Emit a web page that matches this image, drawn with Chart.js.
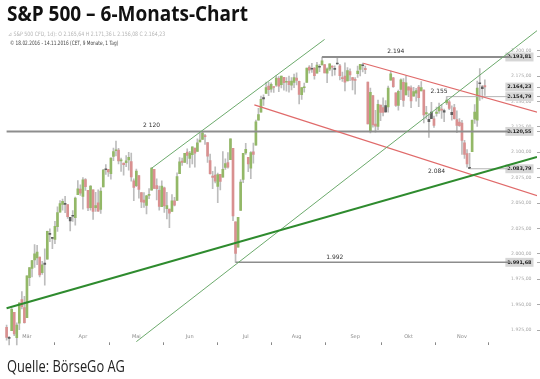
<!DOCTYPE html>
<html>
<head>
<meta charset="utf-8">
<script src="https://cdn.jsdelivr.net/npm/chart.js@4.4.1/dist/chart.umd.min.js"></script>
<style>
  html, body { margin: 0; padding: 0; background: #fff; }
  #wrap { position: relative; width: 540px; height: 379px; overflow: hidden; }
  #c { position: absolute; left: 0; top: 0; }
  .txt { position: absolute; white-space: nowrap; transform-origin: 0 0; }
  #title { left: 7px; top: -3.5px; font: 700 22px 'Open Sans'; line-height: 30px; color: #111; }
  #info1 { left: 8px; top: 30px; font: 6px 'DejaVu Sans'; line-height: 8px; color: #b5b5b5; }
  #info2 { left: 10px; top: 39px; font: 6px 'DejaVu Sans'; line-height: 8px; color: #444; }
  #src { left: 7px; top: 354.6px; font: 16px 'Open Sans'; line-height: 22px; color: #222; }
</style>
</head>
<body>
<div id="wrap">
  <canvas id="c" width="540" height="379"></canvas>
  <div class="txt" id="title">S&amp;P 500 – 6-Monats-Chart</div>
  <div class="txt" id="info1">⊿ S&amp;P 500 CFD, 1d): O 2.165,64 H 2.171,36 L 2.156,08 C 2.164,23</div>
  <div class="txt" id="info2">© 18.02.2016 - 14.11.2016 (CET, 9 Monate, 1 Tag)</div>
  <div class="txt" id="src">Quelle: BörseGo AG</div>
</div>
<script>
// daily OHLC, 18.02.2016 - 14.11.2016 (index 0 = 18.02.)
const opens = [
  1927.57,1916.74,1924.44,1942.38,1917.56,1931.87,1954.95,1947.13,
  1937.09,1976.60,1985.60,1994.01,1996.11,1996.88,1981.44,1990.97,1994.71,2019.27,2015.27,2014.24,2026.90,2041.16,2048.64,2048.64,2048.55,2032.48,2037.89,2035.75,2058.27,2063.77,
  2056.62,2073.19,2062.50,2045.56,2063.01,2045.54,2050.23,2043.72,2065.92,2082.89,2083.10,2078.83,2096.05,2101.52,2102.09,2091.49,2089.37,2089.84,2092.57,2090.93,2071.82,
  2067.17,2077.18,2060.30,2052.95,2047.77,2057.55,2062.63,2083.29,2067.17,2062.50,2046.53,2065.04,2044.38,2044.21,2041.88,2052.23,2052.65,2078.93,2091.44,2090.06,2100.13,
  2093.94,2097.71,2104.07,2100.83,2110.18,2112.71,2115.65,2109.57,2091.75,2076.65,2077.60,2066.36,2078.20,2075.58,2085.19,2089.75,2092.80,2103.81,2031.45,2006.67,2042.69,2073.17,
  2099.34,2095.05,2084.43,2100.42,2106.97,2131.72,2139.50,2153.81,2157.88,2165.13,2162.04,2163.79,2166.10,2172.91,2166.47,2173.71,2168.97,2169.81,2166.05,2168.83,
  2173.15,2169.94,2156.81,2163.51,2168.79,2183.76,2182.24,2182.81,2177.97,2183.74,2186.08,2186.24,2177.84,2181.90,2184.24,2181.58,2187.81,2185.09,2173.29,2175.10,2170.19,2179.45,2173.56,
  2171.33,2177.49,2181.61,2185.17,2182.76,2169.08,2120.86,2155.85,2127.86,2125.36,2146.48,2143.99,2145.94,2144.58,2170.94,2173.29,2158.54,2146.04,2161.85,2168.90,2156.51,
  2164.33,2163.37,2155.15,2158.22,2164.19,2160.39,2161.35,2137.67,2130.26,2139.68,2132.95,2138.31,2140.81,2142.51,2139.43,2148.50,2149.72,2136.97,2144.06,2132.23,2129.78,
  2128.68,2109.43,2098.80,2083.79,2100.59,2132.56,2131.56,2167.49,2162.71,2165.64
];
const highs = [
  1930.00,1918.78,1946.70,1942.38,1932.08,1951.83,1962.96,1958.27,
  1978.35,1986.51,1993.69,2009.13,2008.29,1996.88,1992.69,2005.08,2022.37,2024.57,2015.94,2032.02,2046.24,2052.36,2053.91,2056.60,2048.55,2036.04,2042.67,2055.91,2072.21,2067.92,
  2075.07,2074.02,2062.50,2067.33,2063.01,2060.63,2062.93,2065.05,2083.18,2087.84,2083.22,2094.66,2104.05,2111.05,2103.78,2094.32,2089.37,2096.87,2099.89,2099.30,2073.85,
  2083.42,2077.18,2060.30,2060.23,2057.72,2064.15,2084.87,2083.29,2073.99,2066.79,2071.88,2065.69,2060.61,2044.21,2058.35,2055.58,2079.67,2094.73,2094.30,2099.06,2103.48,
  2100.97,2105.26,2104.07,2113.36,2119.22,2120.55,2117.64,2109.57,2098.12,2081.30,2085.65,2079.62,2078.20,2100.66,2093.66,2099.71,2113.32,2103.81,2031.45,2036.09,2073.13,2098.94,
  2108.71,2095.05,2100.72,2109.08,2131.71,2143.16,2155.40,2156.45,2168.99,2169.05,2168.35,2164.63,2175.63,2174.56,2175.11,2173.71,2173.54,2174.98,2173.63,2177.09,
  2178.29,2170.20,2163.79,2168.19,2182.87,2185.44,2187.66,2183.41,2188.45,2186.28,2193.81,2186.24,2183.08,2187.03,2185.00,2185.15,2193.42,2186.66,2179.00,2187.94,2183.48,2182.27,2173.79,
  2173.56,2184.87,2186.57,2187.87,2184.94,2169.08,2163.30,2155.85,2141.33,2151.31,2146.48,2153.61,2150.80,2165.11,2179.99,2173.75,2158.54,2161.13,2172.40,2172.67,2175.30,
  2164.41,2165.46,2163.95,2162.93,2165.86,2169.60,2161.56,2145.36,2138.19,2149.19,2135.61,2144.38,2148.44,2147.18,2142.63,2154.79,2151.44,2145.73,2147.13,2140.72,2133.25,
  2131.45,2111.76,2102.56,2099.07,2132.00,2146.87,2170.10,2182.30,2165.92,2171.36
];
const lows = [
  1915.09,1902.17,1924.44,1919.44,1891.00,1925.41,1945.78,1931.81,
  1937.09,1968.80,1977.37,1986.77,1989.30,1977.43,1979.84,1969.25,1994.71,2012.05,2005.23,2010.04,2022.16,2041.16,2043.14,2040.57,2034.86,2022.49,2031.96,2028.31,2058.27,2057.46,
  2043.98,2062.57,2042.56,2043.09,2033.80,2041.69,2041.88,2039.74,2065.92,2078.13,2076.31,2073.65,2091.68,2096.32,2088.52,2081.20,2077.52,2085.80,2082.31,2071.62,2052.28,
  2066.11,2054.89,2045.55,2045.77,2039.45,2054.31,2062.63,2064.46,2053.13,2043.13,2046.53,2040.82,2034.49,2025.91,2041.88,2047.26,2052.65,2078.93,2087.08,2090.06,2088.66,
  2085.10,2088.59,2085.36,2100.83,2110.18,2112.71,2107.73,2089.96,2078.46,2064.10,2069.80,2050.37,2062.84,2075.58,2083.02,2084.36,2092.80,2032.57,1991.68,2006.67,2042.69,2070.00,
  2097.90,2080.86,2074.02,2089.39,2106.97,2131.72,2139.50,2146.21,2157.88,2155.79,2159.07,2159.01,2164.89,2159.75,2163.24,2161.20,2160.18,2159.07,2161.29,2163.49,
  2166.21,2147.58,2152.02,2159.07,2168.79,2177.85,2178.61,2172.00,2177.97,2179.42,2186.08,2178.14,2168.50,2180.46,2175.13,2175.96,2186.80,2171.25,2169.74,2160.39,2170.19,2170.41,2161.35,
  2157.09,2173.59,2175.10,2179.07,2177.49,2127.81,2119.12,2124.70,2119.90,2122.36,2131.20,2135.91,2139.17,2139.57,2170.94,2163.97,2145.04,2141.55,2151.79,2145.20,2156.51,
  2154.77,2144.01,2155.15,2150.28,2144.85,2160.39,2128.84,2132.77,2114.72,2132.98,2124.43,2135.49,2138.15,2133.44,2130.09,2146.91,2141.93,2131.59,2132.52,2119.36,2125.53,
  2097.85,2094.00,2085.23,2083.79,2100.59,2128.44,2125.35,2151.17,2152.49,2156.08
];
const closes = [
  1917.83,1917.78,1945.50,1921.27,1929.80,1951.70,1948.05,1932.23,
  1978.35,1986.45,1993.40,1999.99,2001.76,1979.26,1989.26,1989.57,2022.19,2019.64,2015.93,2027.22,2040.59,2049.58,2051.60,2049.80,2036.71,2035.94,2037.05,2055.01,2063.95,2059.74,
  2072.78,2066.13,2045.17,2066.66,2041.91,2047.60,2041.99,2061.72,2082.42,2082.78,2080.73,2094.34,2100.80,2102.40,2091.48,2091.58,2087.79,2091.70,2095.15,2075.81,2065.30,
  2081.43,2063.37,2051.12,2050.63,2057.14,2058.69,2084.39,2064.46,2064.11,2046.61,2066.66,2047.21,2047.63,2040.04,2052.32,2048.04,2076.06,2090.54,2090.10,2099.06,2096.95,
  2099.33,2105.26,2099.13,2109.41,2112.13,2119.12,2115.48,2096.07,2079.06,2075.32,2071.50,2077.99,2071.22,2083.25,2088.90,2085.45,2113.32,2037.41,2000.54,2036.09,2070.77,2098.86,
  2102.95,2088.55,2099.73,2097.90,2129.90,2137.16,2152.14,2152.43,2163.75,2161.74,2166.89,2163.78,2173.02,2165.17,2175.03,2168.48,2169.18,2166.58,2170.06,2173.60,
  2170.84,2157.03,2163.79,2164.25,2182.87,2180.89,2181.74,2175.49,2185.79,2184.05,2190.15,2178.15,2182.22,2187.02,2183.87,2182.64,2186.90,2175.44,2172.47,2169.04,2180.38,2176.12,2170.95,
  2170.86,2179.98,2186.48,2186.16,2181.30,2127.81,2159.04,2127.02,2125.77,2147.26,2139.16,2139.12,2139.76,2163.12,2177.18,2164.69,2146.10,2159.93,2171.37,2151.13,2168.27,
  2161.20,2150.49,2159.73,2160.77,2153.74,2163.66,2136.73,2139.18,2132.55,2132.98,2126.50,2139.60,2144.29,2141.34,2141.16,2151.33,2143.16,2139.43,2133.04,2126.41,2126.15,
  2111.72,2097.94,2088.66,2085.18,2131.52,2139.56,2163.26,2167.48,2164.45,2164.23
];

// x axis: first trading day of each month (bar index)
const monthStarts = [8, 30, 51, 72, 94, 114, 137, 158, 179];
const monthLabels = ['Mär', 'Apr', 'Mai', 'Jun', 'Jul', 'Aug', 'Sep', 'Okt', 'Nov'];

// y axis
const yTicks = [1925, 1950, 1975, 2000, 2025, 2050, 2075, 2100, 2125, 2150, 2175, 2200];
const levelValues = [2193.81, 2164.23, 2154.79, 2120.55, 2083.79, 1991.68];

// horizontal levels drawn in the chart
const hLineFrom = [124, 0, 173, 182, 90];
const hLineValue = [2193.81, 2120.55, 2154.79, 2083.79, 1991.68];
const hLineText = ['2.194', '2 120', '2.155', '2.084', '1.992'];

// trend lines [index, value] -> [index, value]
const trendFrom = [[0, 1946.5], [57, 2084.3], [51, 1913.6], [140.2, 2187.6], [97.4, 2146.6]];
const trendTo = [[208.5, 2095.4], [125, 2211.1], [208.5, 2219.7], [209.7, 2138.7], [209.7, 2056.3]];

const fmtDe = v => {
  const [a, b] = v.toFixed(2).split('.');
  return a.replace(/\B(?=(\d{3})+(?!\d))/g, '.') + ',' + b;
};
const isLevel = c => !!(c && c.tick) && levelValues.includes(c.tick.value);

const idx = closes.map((_, i) => i);
const bodyColor = idx.map(i => {
  const prev = i ? closes[i - 1] : opens[i];
  if (closes[i] >= opens[i]) return closes[i] >= prev ? '#93b867' : '#5e5e5e';
  return closes[i] < prev ? '#d99090' : '#5e5e5e';
});

const lineStyle = [
  { color: '#2e8b2e', width: 2.2 },
  { color: '#6caa6c', width: 1 },
  { color: '#6caa6c', width: 1 },
  { color: '#e06a6a', width: 1.2 },
  { color: '#e06a6a', width: 1.2 }
];
const hStyle = [
  { color: '#8d8d8d', width: 2 },
  { color: '#8d8d8d', width: 2 },
  { color: '#b4b4b4', width: 1 },
  { color: '#b4b4b4', width: 1 },
  { color: '#8d8d8d', width: 1.6 }
];
// label anchors for the level texts
const hLabelAt = [
  { i: 153, dy: -3, base: 'bottom' },
  { i: 57, dy: -3, base: 'bottom' },
  { i: 170, dy: -2, base: 'bottom' },
  { i: 169, dy: 3, base: 'middle' },
  { i: 129, dy: -2, base: 'bottom' }
];

const datasets = [];
datasets.push({
  type: 'bar', order: 5, grouped: false, barThickness: 1,
  data: idx.map(i => ({ x: i, y: [lows[i], highs[i]] })),
  backgroundColor: '#bdbdbd'
});
datasets.push({
  type: 'bar', order: 4, grouped: false, barThickness: 2, minBarLength: 1,
  data: idx.map(i => ({ x: i, y: [opens[i], closes[i]] })),
  backgroundColor: bodyColor
});
trendFrom.forEach((p, k) => {
  datasets.push({
    type: 'line', order: 2,
    data: [{ x: p[0], y: p[1] }, { x: trendTo[k][0], y: trendTo[k][1] }],
    borderColor: lineStyle[k].color, borderWidth: lineStyle[k].width,
    pointRadius: 0, fill: false
  });
});
hLineFrom.forEach((f, k) => {
  datasets.push({
    type: 'line', order: 3,
    data: [{ x: f, y: hLineValue[k] }, { x: 198.5, y: hLineValue[k] }],
    borderColor: hStyle[k].color, borderWidth: hStyle[k].width,
    pointRadius: 0, fill: false
  });
});

const levelText = {
  id: 'levelText',
  afterDatasetsDraw(chart) {
    const { ctx, scales: { x, y } } = chart;
    ctx.save();
    ctx.font = '6px "DejaVu Sans"';
    ctx.fillStyle = '#333';
    ctx.textAlign = 'center';
    hLineText.forEach((t, k) => {
      ctx.textBaseline = hLabelAt[k].base;
      ctx.fillText(t, x.getPixelForValue(hLabelAt[k].i), y.getPixelForValue(hLineValue[k]) + hLabelAt[k].dy);
    });
    ctx.restore();
  }
};

new Chart(document.getElementById('c'), {
  type: 'bar',
  data: { datasets },
  plugins: [levelText],
  options: {
    responsive: false,
    animation: false,
    devicePixelRatio: 1,
    layout: { padding: { left: 5, right: 0, top: 28.35, bottom: 33.7 } },
    plugins: { legend: { display: false }, tooltip: { enabled: false } },
    scales: {
      x: {
        type: 'linear', min: -0.63, max: 208.5, offset: false,
        afterFit: s => { s.height = 0; },
        afterBuildTicks: s => { s.ticks = monthStarts.map(v => ({ value: v })); },
        grid: { display: true, drawOnChartArea: false, drawTicks: true, tickLength: -3, color: '#888' },
        border: { display: false },
        ticks: {
          mirror: true, autoSkip: false, maxRotation: 0, padding: 5.3, color: '#8a8a8a',
          font: { size: 5, family: 'DejaVu Sans' },
          callback: v => monthLabels[monthStarts.indexOf(v)]
        }
      },
      y: {
        position: 'right', min: 1910, max: 2222, z: 1,
        afterFit: s => { s.width = 3; },
        afterBuildTicks: s => { s.ticks = yTicks.concat(levelValues).map(v => ({ value: v })); },
        grid: { drawOnChartArea: false, tickLength: 3, color: '#aaa' },
        border: { display: false },
        ticks: {
          mirror: true, autoSkip: false, padding: -5.5,
          color: c => isLevel(c) ? '#222' : '#a8a8a8',
          font: c => ({ size: isLevel(c) ? 4.9 : 4.6, family: 'DejaVu Sans', weight: isLevel(c) ? 'bold' : 'normal' }),
          showLabelBackdrop: c => isLevel(c),
          backdropColor: '#d6d6d6',
          backdropPadding: { left: 2, right: 2, top: 1.5, bottom: 1.5 },
          callback: v => fmtDe(v)
        }
      }
    }
  }
});

// squeeze the html texts to the widths seen in the picture
[['title', 241], ['src', 118], ['info1', 157], ['info2', 108]].forEach(([id, w]) => {
  const el = document.getElementById(id);
  el.style.transform = 'scaleX(' + (w / el.offsetWidth) + ')';
});
</script>
</body>
</html>
